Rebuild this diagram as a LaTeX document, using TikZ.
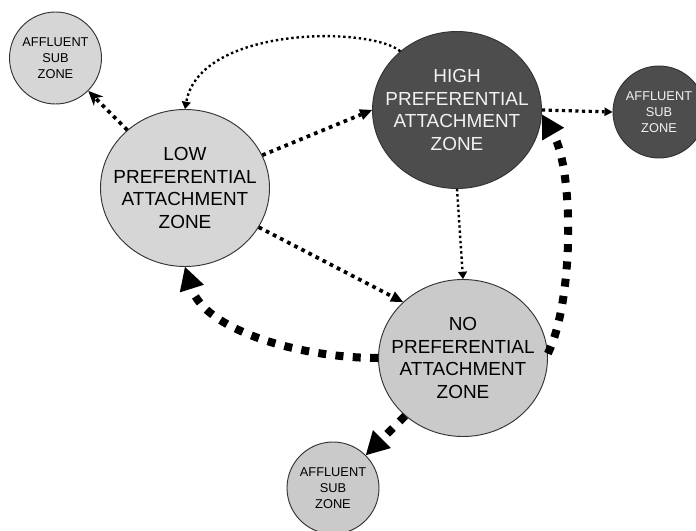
\documentclass[tikz,border=0pt]{standalone}
\usepackage{fontspec}
\setmainfont{Liberation Sans}
\usepackage{xcolor}
\usepackage{tikz}
\usetikzlibrary{arrows.meta}
\usetikzlibrary{shapes.geometric}

\definecolor{zonelow}{HTML}{D6D6D6}
\definecolor{zoneno}{HTML}{CACACA}
\definecolor{zonehigh}{HTML}{4D4D4D}
\definecolor{zoneedge}{HTML}{333333}
\definecolor{zonetext}{HTML}{F2F2F2}

\tikzset{
  bigzone/.style={ellipse, draw=zoneedge, line width=0.7pt, minimum width=126.75pt, minimum height=117.75pt, inner sep=-10pt, align=center, font=\fontsize{14.2}{17.1}\selectfont},
  subzone/.style={circle, draw=zoneedge, line width=0.7pt, minimum size=69pt, inner sep=0pt, align=center, font=\fontsize{9.6}{11.8}\selectfont},
  thinlink/.style={line width=1.8pt, dash pattern=on 1.8pt off 2.1pt, -{Triangle[length=5.5pt,width=7pt,line width=0pt]}},
  midlink/.style={line width=2.8pt, dash pattern=on 2.8pt off 3.2pt, -{Triangle[length=9pt,width=8.5pt,line width=0pt]}},
  thicklink/.style={line width=6pt, dash pattern=on 6pt off 7pt, -{Triangle[length=17pt,width=19pt,line width=0pt]}}
}

\begin{document}
\begin{tikzpicture}[x=0.75pt,y=-0.75pt]
\useasboundingbox (0,0) rectangle (696,531);
\node[bigzone, fill=zonelow] (low) at (185,188) {LOW\\PREFERENTIAL\\ATTACHMENT\\ZONE};
\node[bigzone, fill=zonehigh, text=zonetext] (high) at (457,110) {HIGH\\PREFERENTIAL\\ATTACHMENT\\ZONE};
\node[bigzone, fill=zoneno] (no) at (463,358) {NO\\PREFERENTIAL\\ATTACHMENT\\ZONE};
\node[subzone, fill=zonelow] (afflow) at (55.5,58) {AFFLUENT\\SUB\\ZONE};
\node[subzone, fill=zonehigh, text=zonetext] (affhigh) at (659,112) {AFFLUENT\\SUB\\ZONE};
\node[subzone, fill=zoneno] (affno) at (333,488) {AFFLUENT\\SUB\\ZONE};

\draw[midlink, -{Stealth[length=11pt,width=10pt,inset=3.5pt,line width=0pt]}] (low) -- (afflow);
\draw[thinlink] (high.134) .. controls (370,26) and (200,26) .. (low.north);
\draw[midlink] (low.23) -- (high.west);
\draw[midlink, line width=2.4pt, dash pattern=on 2.4pt off 2.6pt, -{Triangle[length=6pt,width=6.5pt,line width=0pt]}] (high.east) -- (affhigh.west);
\draw[thinlink] (high.south) -- (no.north);
\draw[midlink] (low.-28) -- (no.137);
\draw[thicklink] (no.west) .. controls (300,358) and (205,330) .. (low.south);
\draw[thicklink] (no.3) .. controls (574,300) and (574,170) .. (high.-3);
\draw[thicklink] (no) -- (affno);
\end{tikzpicture}
\end{document}
